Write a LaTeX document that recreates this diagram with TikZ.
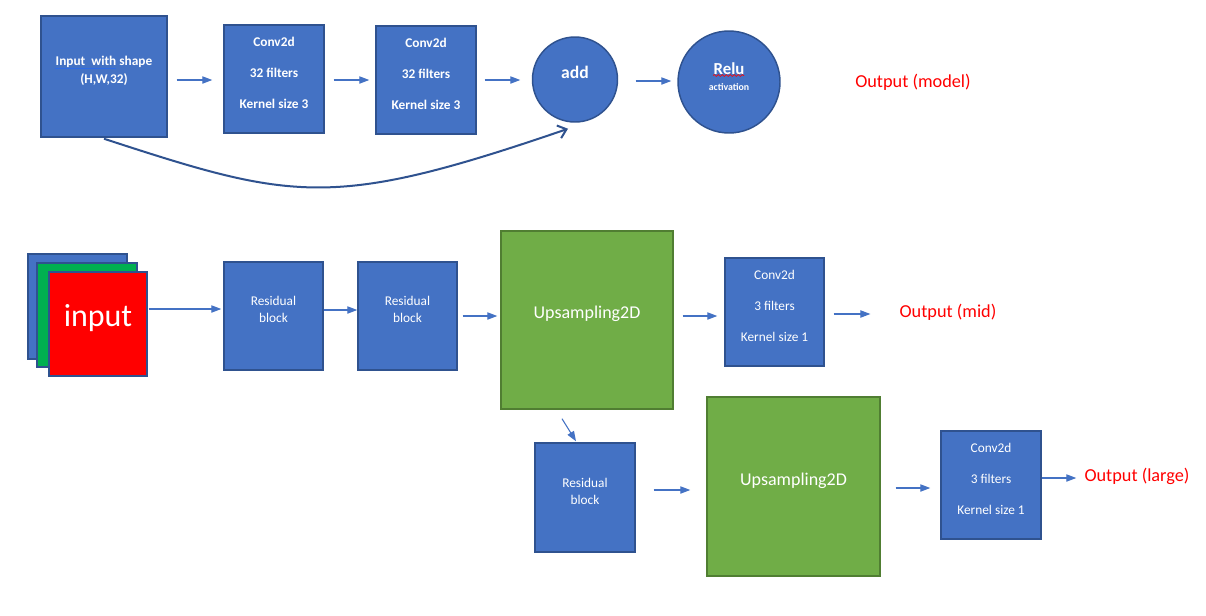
\documentclass[tikz,border=0pt]{standalone}
\usepackage{fontspec}
\setmainfont{Carlito}
\usetikzlibrary{arrows.meta,decorations.pathmorphing}
\definecolor{pblue}{HTML}{4472C4}
\definecolor{pbord}{HTML}{2F528F}
\definecolor{pgreen}{HTML}{70AD47}
\definecolor{pgbord}{HTML}{507E32}
\definecolor{lgreen}{HTML}{00B050}
\definecolor{ulblue}{HTML}{2E6BE6}
\begin{document}
\begin{tikzpicture}[x=0.75pt,y=-0.75pt,
  bbox/.style={draw=pbord, fill=pblue, line width=1.1pt, inner sep=0pt},
  gbox/.style={draw=pgbord, fill=pgreen, line width=1.1pt, inner sep=0pt},
  sq/.style={minimum width=#1*0.75pt},
  ht/.style={minimum height=#1*0.75pt},
  cbox/.style={draw=pbord, fill=pblue, line width=1.1pt, circle, inner sep=0pt, minimum size=#1*0.75pt},
  wbold/.style={text=white, inner sep=0pt, align=center, font=\fontsize{10pt}{23.25pt}\selectfont\bfseries},
  wreg/.style={text=white, inner sep=0pt, align=center, font=\fontsize{10pt}{23.25pt}\selectfont},
  wres/.style={text=white, inner sep=0pt, align=center, font=\fontsize{10pt}{12.75pt}\selectfont},
  wup/.style={text=white, inner sep=0pt, font=\fontsize{13.5pt}{16pt}\selectfont},
  outtxt/.style={text=red, inner sep=0pt, font=\fontsize{13.7pt}{16pt}\selectfont},
  arr/.style={draw=pblue, line width=0.8pt, -{Triangle[length=7.5pt,width=5.5pt]}},
  skip/.style={draw=pbord, line width=1.5pt, -{Straight Barb[length=6pt,width=10pt,line width=1.5pt]}}
]
\fill[white] (0,0) rectangle (1206,615);

% ---------- top row ----------
\node[bbox, sq=126, ht=121] (inbox) at (104,76.5) {};
\node[wbold, font=\fontsize{10pt}{13.5pt}\selectfont\bfseries] (inboxt) at (104,71) {Input\ \ with shape\\(H,W,32)};
\draw[ulblue, line width=0.8pt] (55,68.5) -- (116,68.5);

\node[bbox, sq=100, ht=108] (conv1) at (274,79) {};
\node[wbold] (conv1t) at (274,73) {Conv2d\\32 filters\\Kernel size 3};

\node[bbox, sq=100, ht=108] (conv2) at (426,80) {};
\node[wbold] (conv2t) at (426,74) {Conv2d\\32 filters\\Kernel size 3};

\node[cbox=85] (add) at (575,79.5) {};
\node[text=white, inner sep=0pt, font=\fontsize{13.2pt}{15pt}\selectfont\bfseries] (addt) at (575,72) {add};

\node[cbox=102] (relu) at (729,82) {};
\node[text=white, inner sep=0pt, font=\fontsize{12.6pt}{15pt}\selectfont\bfseries] (relut) at (729,69) {Relu};
\node[text=white, inner sep=0pt, font=\fontsize{7.4pt}{9pt}\selectfont\bfseries] (actt) at (729,87) {activation};
\draw[red, line width=0.5pt, decorate, decoration={snake, segment length=3pt, amplitude=0.7pt}] (713,75.5) -- (744,75.5);

\node[outtxt] (outmodel) at (913,82) {Output (model)};

\draw[arr] ([shift={(9,3.5)}]inbox.east) -- ([shift={(-11,1)}]conv1.west);
\draw[arr] ([shift={(9,1)}]conv1.east) -- ([shift={(-6,0)}]conv2.west);
\draw[arr] ([shift={(8,0)}]conv2.east) -- ([shift={(-11.5,0.5)}]add.west);
\draw[arr] ([shift={(17.5,1.5)}]add.east) -- ([shift={(-6,-1)}]relu.west);

\coordinate (skiptip) at ([shift={(-7,6)}]add.south);
\draw[skip] ([shift={(0,1)}]inbox.south) .. controls +(190,62) and +(-236,81) .. (skiptip);

% ---------- bottom section ----------
\node[bbox, sq=99, ht=105] (stackb) at (77.5,306.5) {};
\node[draw=pbord, fill=lgreen, line width=1.1pt, inner sep=0pt, sq=100, ht=104] (stackg) at (87,315) {};
\node[draw=pbord, fill=red, line width=1.1pt, inner sep=0pt, sq=98, ht=104] (stackr) at (98,324) {};
\node[text=white, inner sep=0pt, font=\fontsize{24pt}{28pt}\selectfont] (inputt) at (98,318.5) {input};

\node[bbox, sq=99, ht=108] (res1) at (273.5,316) {};
\node[wres] (res1t) at (273.5,309.5) {Residual\\block};
\node[bbox, sq=99, ht=108] (res2) at (407.5,316) {};
\node[wres] (res2t) at (407.5,309.5) {Residual\\block};

\node[gbox, sq=172, ht=178] (up1) at (587,320) {};
\node[wup] (up1t) at (587,314) {Upsampling2D};

\node[bbox, sq=99, ht=108] (convm) at (774.5,312) {};
\node[wreg] (convmt) at (774.5,306) {Conv2d\\3 filters\\Kernel size 1};
\node[outtxt] (outmid) at (948,312) {Output (mid)};

\node[bbox, sq=100, ht=109] (res3) at (585,497.5) {};
\node[wres] (res3t) at (585,491.5) {Residual\\block};

\node[gbox, sq=173, ht=179] (up2) at (793.5,486.5) {};
\node[wup] (up2t) at (793.5,481) {Upsampling2D};

\node[bbox, sq=100, ht=108] (convl) at (991,485) {};
\node[wreg] (convlt) at (991,479) {Conv2d\\3 filters\\Kernel size 1};
\node[outtxt] (outlarge) at (1137,476) {Output (large)};

\draw[arr] ([shift={(1,-15)}]stackr.east) -- ([shift={(-2,-7)}]res1.west);
\draw[arr] ([shift={(0,-6)}]res1.east) -- ([shift={(0,-6)}]res2.west);
\draw[arr] ([shift={(5,0)}]res2.east) -- ([shift={(-3,-4)}]up1.west);
\draw[arr] ([shift={(9,-4)}]up1.east) -- ([shift={(-7,4)}]convm.west);
\draw[arr] ([shift={(9,2)}]convm.east) -- ([shift={(-29,2)}]outmid.west);
\draw[arr] ([shift={(-25,9)}]up1.south) -- ([shift={(-9,-1)}]res3.north);
\draw[arr] ([shift={(18,-7.5)}]res3.east) -- ([shift={(-16,3.5)}]up2.west);
\draw[arr] ([shift={(15,1.5)}]up2.east) -- ([shift={(-10,3)}]convl.west);
\draw[arr] ([shift={(0,-7)}]convl.east) -- ([shift={(-8,2)}]outlarge.west);
\end{tikzpicture}
\end{document}
